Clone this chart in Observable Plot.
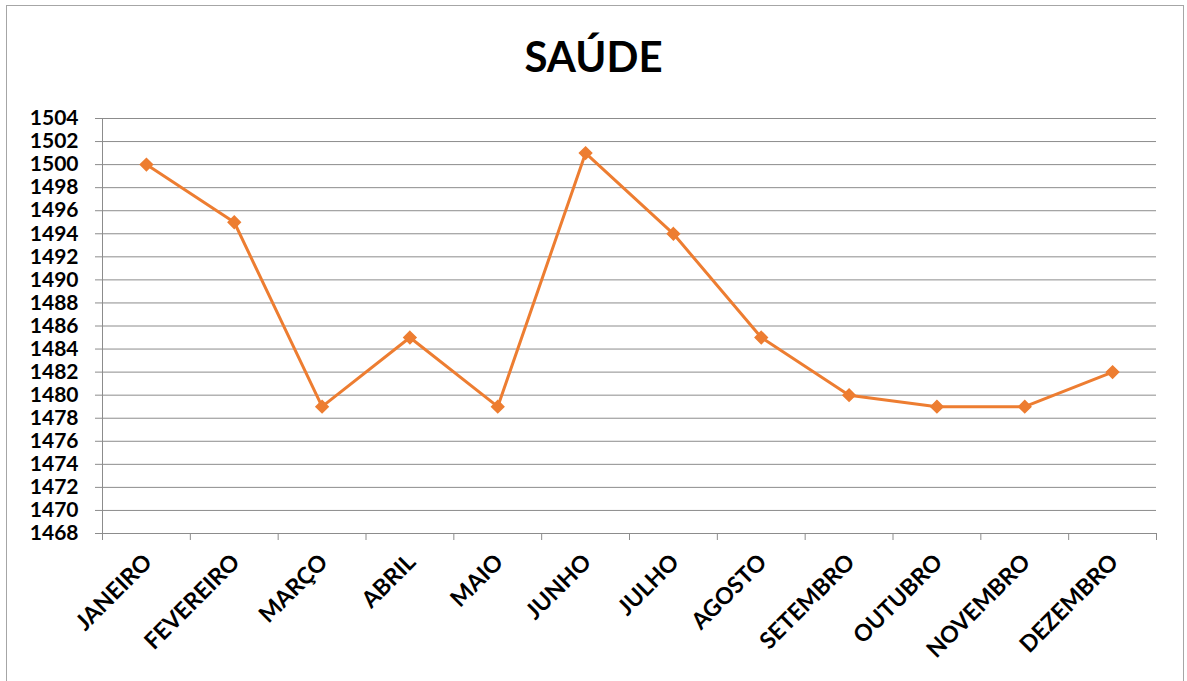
<!DOCTYPE html>
<html>
<head>
<meta charset="utf-8">
<script src="https://cdn.jsdelivr.net/npm/d3@7"></script>
<script src="https://cdn.jsdelivr.net/npm/@observablehq/plot@0.6"></script>
<style>
  html, body { margin: 0; padding: 0; background: #fff; }
  #wrap { position: relative; width: 1187px; height: 681px; overflow: hidden; font-family: Lato, sans-serif; }
  #frame { position: absolute; left: 6px; top: 5px; width: 1178px; height: 700px; border: 1px solid #a6a6a6; box-sizing: border-box; }
  #title { position: absolute; left: 0; top: 0; width: 1187px; height: 100px; text-align: center; font: bold 42px Lato, sans-serif; line-height: 42px; padding-top: 35px; box-sizing: border-box; color: #000; }
  #chart { position: absolute; left: 0; top: 100px; }
</style>
</head>
<body>
<div id="wrap">
  <div id="frame"></div>
  <div id="title">SAÚDE</div>
  <div id="chart"></div>
</div>
<script>
const months = ["JANEIRO","FEVEREIRO","MARÇO","ABRIL","MAIO","JUNHO","JULHO","AGOSTO","SETEMBRO","OUTUBRO","NOVEMBRO","DEZEMBRO"];
const values = [1500, 1495, 1479, 1485, 1479, 1501, 1494, 1485, 1480, 1479, 1479, 1482];
const yTicks = [1468,1470,1472,1474,1476,1478,1480,1482,1484,1486,1488,1490,1492,1494,1496,1498,1500,1502,1504];

const data = months.map((m, i) => ({i, month: m, value: values[i]}));
const bounds = months.map((m, i) => i - 0.5).concat([months.length - 0.5]);

const gray = "#8c8c8c";
const orange = "#ED7D31";

const chart = Plot.plot({
  width: 1187,
  height: 581,
  marginTop: 18,
  marginBottom: 148,
  marginLeft: 102,
  marginRight: 31,
  style: {fontFamily: "Lato, sans-serif", background: "transparent"},
  x: {type: "linear", domain: [-0.5, months.length - 0.5], axis: null, label: null},
  y: {domain: [1468, 1504], axis: null, label: null},
  marks: [
    Plot.gridY(yTicks, {stroke: gray, strokeOpacity: 1, strokeWidth: 1}),
    Plot.axisY(yTicks, {label: null, tickSize: 7, tickPadding: 17, stroke: gray, strokeOpacity: 1, fontSize: 21, fontWeight: "bold", fill: "#000", tickFormat: d => String(d)}),
    Plot.ruleX([-0.5], {stroke: gray, strokeWidth: 1}),
    Plot.ruleY([1468], {stroke: gray, strokeWidth: 1}),
    Plot.axisX(bounds, {label: null, tickSize: 7, stroke: gray, strokeOpacity: 1, tickFormat: () => ""}),
    Plot.text(data, {x: "i", frameAnchor: "bottom", text: "month", rotate: -45, textAnchor: "end", dx: 7, dy: 30, fontSize: 23, fontWeight: "bold", fill: "#000"}),
    Plot.line(data, {x: "i", y: "value", stroke: orange, strokeWidth: 3}),
    Plot.dot(data, {x: "i", y: "value", symbol: "diamond2", r: 5.5, fill: orange, stroke: orange})
  ]
});
document.getElementById("chart").appendChild(chart);
</script>
</body>
</html>
